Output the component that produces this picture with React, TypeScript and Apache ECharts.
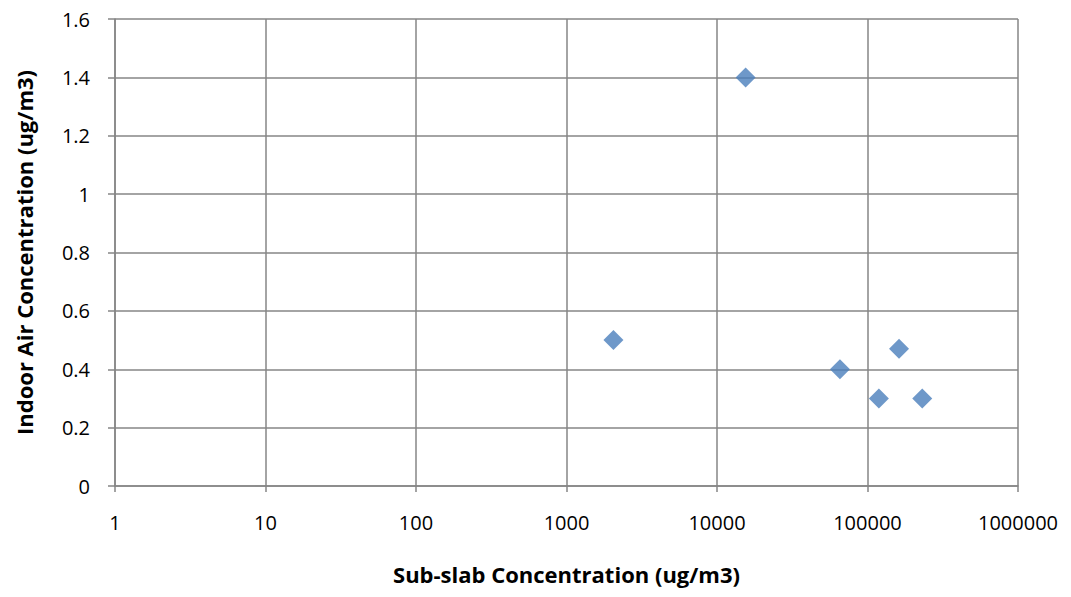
import React, { useEffect, useRef } from "react";
import * as echarts from "echarts";

const subSlab = [2050, 15500, 65600, 119000, 162000, 231000];
const indoorAir = [0.5, 1.4, 0.4, 0.3, 0.47, 0.3];
const xTitle = "Sub-slab Concentration (ug/m3)";
const yTitle = "Indoor Air Concentration (ug/m3)";

const FONT = "'Open Sans', 'Liberation Sans', sans-serif";

export default function App() {
  const ref = useRef<HTMLDivElement>(null);
  useEffect(() => {
    document.body.style.margin = "0";
    const chart = echarts.init(ref.current!, null, { renderer: "svg" });
    const data = subSlab.map((x, i) => [x, indoorAir[i]]);
    chart.setOption({
      animation: false,
      backgroundColor: "#ffffff",
      grid: { left: 115, top: 19, right: 53, bottom: 111, containLabel: false },
      xAxis: {
        type: "log",
        logBase: 10,
        min: 1,
        max: 1000000,
        name: xTitle,
        nameLocation: "middle",
        nameGap: 77,
        nameTextStyle: { fontFamily: FONT, fontWeight: "bold", fontSize: 22, color: "#000" },
        axisLine: { show: true, lineStyle: { color: "#868686", width: 1.5 } },
        axisTick: { show: true, inside: false, length: 6, lineStyle: { color: "#868686", width: 1.5 } },
        axisLabel: {
          margin: 26,
          fontFamily: FONT,
          fontSize: 20,
          color: "#000",
          formatter: (v: number) => String(Math.round(v)),
        },
        splitLine: { show: true, lineStyle: { color: "#868686", width: 1.5 } },
        minorTick: { show: false },
      },
      yAxis: {
        type: "value",
        min: 0,
        max: 1.6,
        interval: 0.2,
        name: yTitle,
        nameLocation: "middle",
        nameGap: 80,
        nameTextStyle: { fontFamily: FONT, fontWeight: "bold", fontSize: 22, color: "#000" },
        axisLine: { show: true, lineStyle: { color: "#868686", width: 1.5 } },
        axisTick: { show: true, inside: false, length: 7, lineStyle: { color: "#868686", width: 1.5 } },
        axisLabel: {
          margin: 25,
          fontFamily: FONT,
          fontSize: 20,
          color: "#000",
          formatter: (v: number) => String(Math.round(v * 10) / 10),
        },
        splitLine: { show: true, lineStyle: { color: "#868686", width: 1.5 } },
      },
      series: [
        {
          type: "scatter",
          data,
          symbol: "diamond",
          symbolSize: [20, 20],
          itemStyle: { color: "#4a7ebb" },
        },
      ],
    });
    return () => chart.dispose();
  }, []);
  return <div ref={ref} style={{ width: 1071, height: 597 }} />;
}
